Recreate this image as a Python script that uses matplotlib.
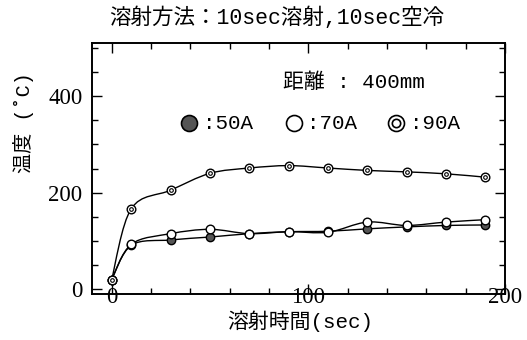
import numpy as np
import matplotlib
matplotlib.use("Agg")
import matplotlib.pyplot as plt
from matplotlib.path import Path
from matplotlib.patches import PathPatch
from matplotlib.ticker import MultipleLocator

# spraying time (sec) and temperature (deg C) for each current
time_sec = [0, 10, 30, 50, 70, 90, 110, 130, 150, 170, 190]
temp_50a = [20, 91, 102, 108, 115, 119, 120, 125, 129, 132, 133]
temp_70a = [20, 93, 115, 124, 115, 119, 118, 139, 132, 139, 144]
temp_90a = [20, 167, 205, 240, 251, 256, 251, 246, 243, 239, 232]

plt.rcParams['font.family'] = ['Liberation Serif']
JP = ['Liberation Mono', 'Noto Sans CJK JP']
W, H = 527, 340


def smooth_path(x, y):
    # Catmull-Rom through the points, written as cubic Bezier segments
    p = np.column_stack([x, y]).astype(float)
    verts = [p[0]]
    codes = [Path.MOVETO]
    n = len(p)
    for i in range(n - 1):
        p0 = p[i - 1] if i > 0 else p[i]
        p3 = p[i + 2] if i + 2 < n else p[i + 1]
        c1 = p[i] + (p[i + 1] - p0) / 6
        c2 = p[i + 1] - (p3 - p[i]) / 6
        verts += [c1, c2, p[i + 1]]
        codes += [Path.CURVE4] * 3
    return Path(verts, codes)


def fxy(px, py):
    return px / W, 1 - py / H


fig = plt.figure(figsize=(W / 100, H / 100), dpi=100)
ax = fig.add_axes([92 / W, 1 - 294 / H, (505 - 92) / W, (294 - 43) / H])

for y in (temp_50a, temp_70a, temp_90a):
    ax.add_patch(PathPatch(smooth_path(time_sec, y), fill=False, lw=1.0,
                           ec='black', zorder=2))

ax.plot(time_sec, temp_50a, 'o', ms=6, mfc='#555555', mec='black', mew=1.0, zorder=3)
ax.plot(time_sec, temp_70a, 'o', ms=6.2, mfc='white', mec='black', mew=1.0, zorder=4)
ax.plot(time_sec, temp_90a, 'o', ms=6.2, mfc='white', mec='black', mew=1.0, zorder=4)
ax.plot(time_sec, temp_90a, 'o', ms=2.6, mfc='white', mec='black', mew=0.8, zorder=5)

ax.set_xlim(-10, 200)
ax.set_ylim(-10, 510)
ax.xaxis.set_major_locator(MultipleLocator(100))
ax.xaxis.set_minor_locator(MultipleLocator(20))
ax.yaxis.set_major_locator(MultipleLocator(200))
ax.yaxis.set_minor_locator(MultipleLocator(50))
ax.tick_params(which='both', direction='in', top=True, right=True, width=1.0,
               labelsize=16.5)
ax.tick_params(which='major', length=7)
ax.tick_params(which='minor', length=4)
ax.tick_params(axis='x', pad=-5)
ax.tick_params(axis='y', pad=7)
for s in ax.spines.values():
    s.set_linewidth(1.4)

# titles and axis labels
fig.text(*fxy(277, 18), '溶射方法：10sec溶射,10sec空冷', family=JP,
         fontsize=15.5, ha='center', va='center')
fig.text(*fxy(300, 321), '溶射時間(sec)', family=JP, fontsize=15,
         ha='center', va='center')
fig.text(*fxy(24, 123), '温度 (˚C)', family=JP, fontsize=14.5,
         rotation=90, ha='center', va='center')

# legend block inside the axes
fig.text(*fxy(283, 82), '距離 : 400mm', family=JP, fontsize=15,
         ha='left', va='center')
legend_items = [(189, 203, ':50A', '#555555'),
                (293.5, 307, ':70A', 'white'),
                (396, 410, ':90A', 'white')]
for mx, tx, label, face in legend_items:
    fig.lines.append(plt.Line2D([mx / W], [1 - 123 / H], marker='o', ms=11.5,
                                mfc=face, mec='black', mew=1.2,
                                transform=fig.transFigure))
    fig.text(*fxy(tx, 123), label, family=JP, fontsize=15, ha='left', va='center')
fig.lines.append(plt.Line2D([396 / W], [1 - 123 / H], marker='o', ms=6, mfc='white',
                            mec='black', mew=1.2, transform=fig.transFigure))

fig.savefig('out.png', dpi=100)
